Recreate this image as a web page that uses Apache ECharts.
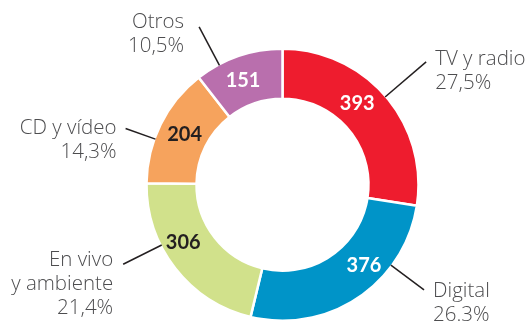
<!DOCTYPE html>
<html>
<head>
<meta charset="utf-8">
<script src="https://cdn.jsdelivr.net/npm/echarts@6/dist/echarts.min.js"></script>
<style>
  html, body { margin: 0; padding: 0; background: #ffffff; }
  #chart { width: 529px; height: 322px; }
</style>
</head>
<body>
<div id="chart"></div>
<script>
// Ingresos por fuente
const categories = ['TV y radio', 'Digital', 'En vivo\ny ambiente', 'CD y vídeo', 'Otros'];
const values = [393, 376, 306, 204, 151];
const shares = ['27,5%', '26.3%', '21,4%', '14,3%', '10,5%'];

const sliceColors = ['#EE1C2E', '#0094C8', '#D1E18B', '#F6A35D', '#B96FAD'];
const valueColors = ['#ffffff', '#ffffff', '#231F20', '#231F20', '#ffffff'];

// value labels: angular nudge (deg, clockwise) and distance from the centre
const valueNudge = [
  { turn: -6.7, r: 110 },
  { turn: -11.6, r: 114.5 },
  { turn: 7.6, r: 115 },
  { turn: 0.8, r: 110 },
  { turn: -1.8, r: 111 }
];

// captions: leader lengths, vertical shift of the leader end,
// gap between leader end and text, offset of the first text line
const leaders = [
  { length: 53, length2: 0,  shift: 0,  gap: 9,  textDy: -3 },
  { length: 0,  length2: 66, shift: -8, gap: 9,  textDy: 1 },
  { length: 0,  length2: 52, shift: -4, gap: 10, textDy: -4 },
  { length: 0,  length2: 35, shift: 4,  gap: 9,  textDy: 0 },
  { length: 31, length2: 29, shift: 0,  gap: 15, textDy: -5 }
];

const FONT = '"Open Sans", Lato, sans-serif';
const LINE_H = 24;
const CENTER = [282.5, 184.7];
const RADIUS = [86, 136];
const RING_EDGE = 135;

const ringData = categories.map((name, i) => ({
  name: name,
  value: values[i],
  itemStyle: { color: sliceColors[i] },
  label: { color: valueColors[i] }
}));

const captionData = categories.map((name, i) => ({
  name: name,
  value: values[i],
  labelLine: { length: leaders[i].length, length2: leaders[i].length2 }
}));

function placeValue(p) {
  const n = valueNudge[p.dataIndex];
  const rc = p.labelRect;
  const mx = rc.x + rc.width / 2 - CENTER[0];
  const my = rc.y + rc.height / 2 - CENTER[1];
  const a = Math.atan2(mx, -my) + n.turn * Math.PI / 180;
  return {
    x: CENTER[0] + n.r * Math.sin(a),
    y: CENTER[1] - n.r * Math.cos(a),
    align: 'center',
    verticalAlign: 'middle'
  };
}

function placeCaption(p) {
  const L = leaders[p.dataIndex];
  const pts = p.labelLinePoints;
  const end = pts[pts.length - 1];
  const right = end[0] > CENTER[0];
  const ex = end[0];
  const ey = end[1] + L.shift;
  const tx = ex + (right ? L.gap : -L.gap);
  const firstMid = ey + L.textDy;
  // leader runs along the radius that points at its outer end
  const vx = ex - CENTER[0];
  const vy = ey - CENTER[1];
  const d = Math.hypot(vx, vy);
  const sx = CENTER[0] + vx / d * RING_EDGE;
  const sy = CENTER[1] + vy / d * RING_EDGE;
  return {
    x: tx,
    y: firstMid - LINE_H / 2,
    align: right ? 'left' : 'right',
    verticalAlign: 'top',
    labelLinePoints: [[sx, sy], [ex, ey]]
  };
}

const chart = echarts.init(document.getElementById('chart'), null, { renderer: 'canvas' });
chart.setOption({
  backgroundColor: '#ffffff',
  animation: false,
  series: [
    {
      type: 'pie',
      center: CENTER,
      radius: RADIUS,
      startAngle: 90,
      clockwise: true,
      avoidLabelOverlap: false,
      silent: true,
      itemStyle: { borderColor: '#ffffff', borderWidth: 2.5 },
      label: {
        show: true,
        position: 'inside',
        formatter: '{c}',
        fontFamily: 'Lato, "Open Sans", sans-serif',
        fontWeight: 'bold',
        fontSize: 20
      },
      labelLine: { show: false },
      labelLayout: placeValue,
      data: ringData
    },
    {
      type: 'pie',
      center: CENTER,
      radius: RADIUS,
      startAngle: 90,
      clockwise: true,
      avoidLabelOverlap: false,
      silent: true,
      z: 3,
      itemStyle: { color: 'rgba(0,0,0,0)', borderWidth: 0 },
      label: {
        show: true,
        position: 'outside',
        formatter: (p) => p.name + '\n' + shares[p.dataIndex],
        fontFamily: FONT,
        fontWeight: 300,
        fontSize: 20.5,
        lineHeight: LINE_H,
        color: '#4D4D4F',
        edgeDistance: 0
      },
      labelLine: {
        show: true,
        lineStyle: { color: '#231F20', width: 1.5 }
      },
      labelLayout: placeCaption,
      data: captionData
    }
  ]
});
</script>
</body>
</html>
